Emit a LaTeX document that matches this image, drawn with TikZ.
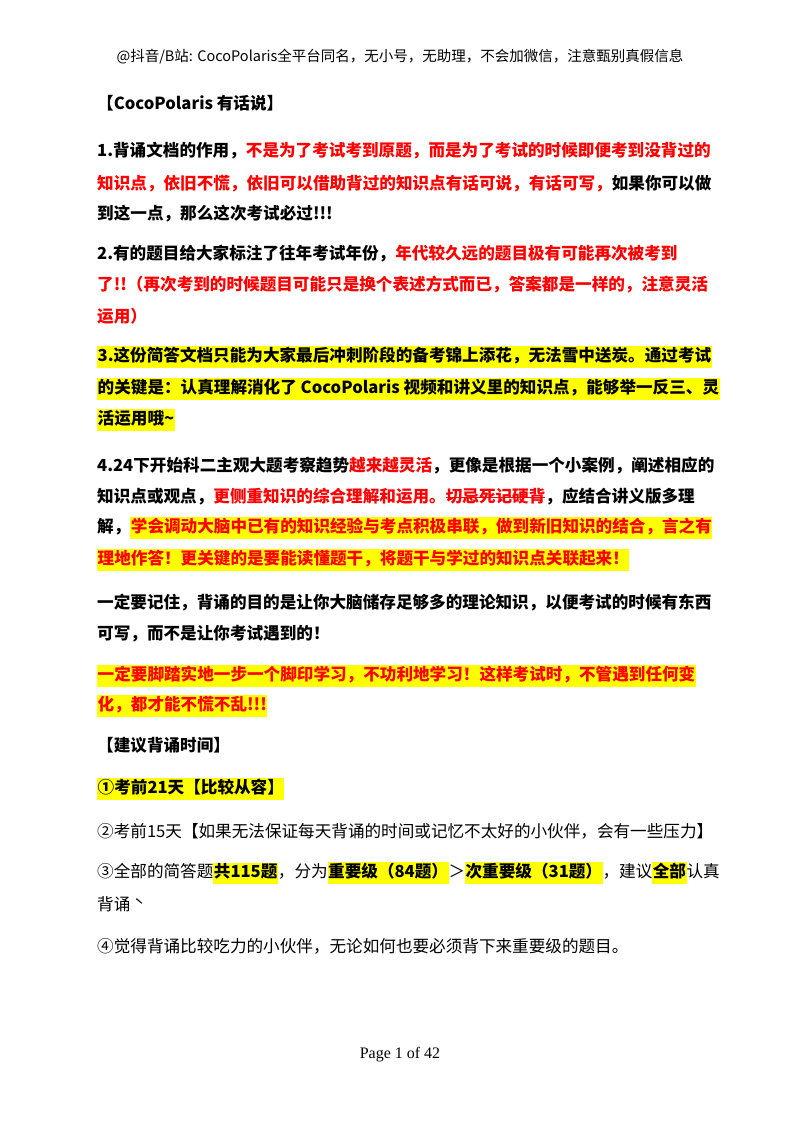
\documentclass[tikz,border=0pt]{standalone}
\usepackage{fontspec}
\setmainfont{Noto Sans CJK SC}
\newfontfamily\serifl{Liberation Serif}
\definecolor{hly}{RGB}{255,255,0}
\definecolor{rd}{RGB}{255,0,0}
\newcommand\hlb[1]{{\setlength\fboxsep{0.5pt}\colorbox{hly}{\strut #1}}}
\newcommand\rd[1]{\textcolor{rd}{#1}}
\newsavebox\stkbox
\newcommand\stk[1]{\sbox\stkbox{#1}\usebox\stkbox\llap{\rule[0.3em]{\wd\stkbox}{1.1pt}}}
\begin{document}
\begin{tikzpicture}[x=1pt,y=-1pt,
  ln/.style={anchor=west,inner sep=0pt,font=\fontsize{16.6}{20}\selectfont\bfseries},
  lnn/.style={anchor=west,inner sep=0pt,font=\fontsize{16.6}{20}\selectfont}]
\useasboundingbox[fill=white] (0,0) rectangle (800,1132);
\node[inner sep=0pt,font=\fontsize{14.5}{18}\selectfont] (hd) at (400,57) {@抖音/B站: CocoPolaris全平台同名，无小号，无助理，不会加微信，注意甄别真假信息};
\node[ln] (t1) at (97,103) {【CocoPolaris 有话说】};
\node[ln] (a1) at (97,151) {1.背诵文档的作用，\rd{不是为了考试考到原题，而是为了考试的时候即便考到没背过的}};
\node[ln] (a2) at (97,184) {\rd{知识点，依旧不慌，依旧可以借助背过的知识点有话可说，有话可写，}如果你可以做};
\node[ln] (a3) at (97,214) {到这一点，那么这次考试必过!!!};
\node[ln] (b1) at (97,254) {2.有的题目给大家标注了往年考试年份，\rd{年代较久远的题目极有可能再次被考到}};
\node[ln] (b2) at (97,285) {\rd{了!!（再次考到的时候题目可能只是换个表述方式而已，答案都是一样的，注意灵活}};
\node[ln] (b3) at (97,316) {\rd{运用）}};
\node[ln] (c1) at (97,357) {\hlb{3.这份简答文档只能为大家最后冲刺阶段的备考锦上添花，无法雪中送炭。通过考试}};
\node[ln] (c2) at (97,389) {\hlb{的关键是：认真理解消化了 CocoPolaris 视频和讲义里的知识点，能够举一反三、灵}};
\node[ln] (c3) at (97,420) {\hlb{活运用哦\textasciitilde}};
\node[ln] (d1) at (97,466) {4.24下开始科二主观大题考察趋势\rd{越来越灵活}，更像是根据一个小案例，阐述相应的};
\node[ln] (d2) at (97,497) {知识点或观点，\rd{更侧重知识的综合理解和运用。}{\color{rd}\stk{切忌死记硬背}}，应结合讲义版多理};
\node[ln] (d3) at (97,528) {解，\hlb{\rd{学会调动大脑中已有的知识经验与考点积极串联，做到新旧知识的结合，言之有}}};
\node[ln] (d4) at (97,560) {\hlb{\rd{理地作答！更关键的是要能读懂题干，将题干与学过的知识点关联起来！}}};
\node[ln] (e1) at (97,603) {一定要记住，背诵的目的是让你大脑储存足够多的理论知识，以便考试的时候有东西};
\node[ln] (e2) at (97,634) {可写，而不是让你考试遇到的！};
\node[ln] (f1) at (97,676) {\hlb{\rd{一定要脚踏实地一步一个脚印学习，不功利地学习！这样考试时，不管遇到任何变}}};
\node[ln] (f2) at (97,706) {\hlb{\rd{化，都才能不慌不乱!!!}}};
\node[ln] (t2) at (97,745) {【建议背诵时间】};
\node[ln] (g1) at (97,789) {\hlb{①考前21天【比较从容】}};
\node[lnn] (g2) at (97,831) {②考前15天【如果无法保证每天背诵的时间或记忆不太好的小伙伴，会有一些压力】};
\node[lnn] (g3) at (97,873) {③全部的简答题\hlb{\bfseries 共115题}，分为\hlb{\bfseries 重要级（84题）}＞\hlb{\bfseries 次重要级（31题）}，建议\hlb{\bfseries 全部}认真};
\node[lnn] (g4) at (97,904) {背诵\`{}};
\node[lnn] (g5) at (97,946) {④觉得背诵比较吃力的小伙伴，无论如何也要必须背下来重要级的题目。};
\node[inner sep=0pt,font=\fontsize{16}{18}\selectfont\serifl] (pg) at (400,1055) {Page 1 of 42};
\end{tikzpicture}
\end{document}
